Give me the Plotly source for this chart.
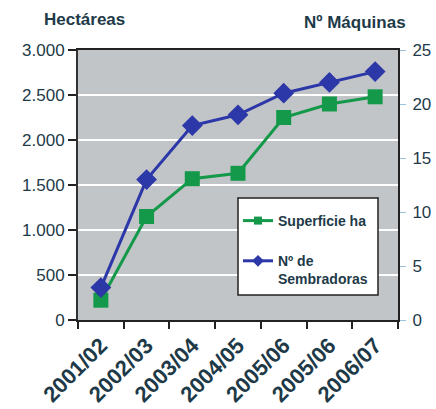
import plotly.graph_objects as go

campaigns = ["2001/02", "2002/03", "2003/04", "2004/05", "2005/06", "2005/06", "2006/07"]
superficie_ha = [220, 1150, 1570, 1630, 2250, 2400, 2480]
n_sembradoras = [3, 13, 18, 19, 21, 22, 23]
left_ticks = [0, 500, 1000, 1500, 2000, 2500, 3000]
left_tick_labels = ["0", "500", "1.000", "1.500", "2.000", "2.500", "3.000"]
right_ticks = [0, 5, 10, 15, 20, 25]

TXT = "#1e3a48"
GREEN = "#14994b"
BLUE = "#2c37a8"
FONT = "Liberation Sans, Arial, sans-serif"

W, H = 436, 409
ML, MR, MT, MB = 78, 38, 50, 89
pw = W - ML - MR
ph = H - MT - MB


def px_x(x):
    return (x - ML) / pw


def px_y(y):
    return (H - MB - y) / ph


xs = list(range(len(campaigns)))

fig = go.Figure()
fig.add_trace(go.Scatter(
    x=xs, y=superficie_ha, mode="lines+markers", name="Superficie ha",
    line=dict(color=GREEN, width=3),
    marker=dict(symbol="square", size=15, color=GREEN),
    showlegend=False, yaxis="y"))
fig.add_trace(go.Scatter(
    x=xs, y=n_sembradoras, mode="lines+markers", name="Nº de<br>Sembradoras",
    line=dict(color=BLUE, width=3),
    marker=dict(symbol="diamond", size=16, color=BLUE),
    showlegend=False, yaxis="y2"))
# legend entries with small markers
fig.add_trace(go.Scatter(
    x=[None], y=[None], mode="lines+markers", name="Superficie ha",
    line=dict(color=GREEN, width=3), marker=dict(symbol="square", size=8, color=GREEN),
    legendgroup="a"))
fig.add_trace(go.Scatter(
    x=[None], y=[None], mode="lines+markers", name="Nº de<br>Sembradoras",
    line=dict(color=BLUE, width=3), marker=dict(symbol="diamond", size=9, color=BLUE),
    legendgroup="b"))

fig.update_layout(
    width=W, height=H,
    margin=dict(l=ML, r=MR, t=MT, b=MB, autoexpand=False),
    paper_bgcolor="white",
    plot_bgcolor="#c2c5c8",
    font=dict(family=FONT, color=TXT),
    xaxis=dict(
        range=[-0.5, len(campaigns) - 0.5], automargin=False,
        tickmode="array", tickvals=xs, ticktext=campaigns,
        tickangle=-45, ticks="", ticklabelstandoff=2,
        tickfont=dict(size=22, family=FONT, color=TXT, weight="bold"),
        showgrid=False, zeroline=False,
        showline=True, linecolor="#222", linewidth=2, mirror=True,
        minor=dict(tickvals=[i - 0.5 for i in range(len(campaigns) + 1)],
                   ticks="outside", ticklen=7, tickcolor="#222", tickwidth=2, showgrid=False),
    ),
    yaxis=dict(
        range=[0, 3000], automargin=False,
        tickmode="array", tickvals=left_ticks, ticktext=left_tick_labels,
        ticks="outside", ticklen=8, tickcolor="#222", tickwidth=2,
        tickfont=dict(size=17, color=TXT),
        showgrid=True, gridcolor="white", gridwidth=2,
        zeroline=False, showline=True, linecolor="#333", linewidth=2, mirror=True,
    ),
    yaxis2=dict(
        range=[0, 25], automargin=False, tickmode="array", tickvals=right_ticks,
        overlaying="y", side="right",
        ticks="outside", ticklen=6, tickcolor="#9cc3dc", tickwidth=1,
        ticklabelstandoff=3,
        tickfont=dict(size=17, color=TXT),
        showgrid=False, zeroline=False, showline=True, linecolor="#222", linewidth=2,
    ),
    legend=dict(
        x=px_x(238), y=px_y(205), xanchor="left", yanchor="top",
        bgcolor="rgba(0,0,0,0)", borderwidth=0,
        font=dict(size=14, color=TXT, weight="bold"),
        traceorder="grouped", tracegroupgap=19, valign="top",
    ),
    shapes=[
        dict(type="rect", xref="paper", yref="paper",
             x0=px_x(238), x1=px_x(378), y0=px_y(198), y1=px_y(295),
             fillcolor="white", line=dict(color="#222", width=1.5), layer="above"),
    ],
    annotations=[
        dict(text="<b>Hectáreas</b>", x=px_x(84), y=px_y(20),
             xref="paper", yref="paper", xanchor="center", yanchor="middle",
             showarrow=False, font=dict(size=17, color=TXT)),
        dict(text="<b>Nº Máquinas</b>", x=px_x(355), y=px_y(22),
             xref="paper", yref="paper", xanchor="center", yanchor="middle",
             showarrow=False, font=dict(size=17, color=TXT)),
    ],
)

fig.write_html("out.html", config={"displayModeBar": False},
               post_script="document.body.style.margin='0';")
